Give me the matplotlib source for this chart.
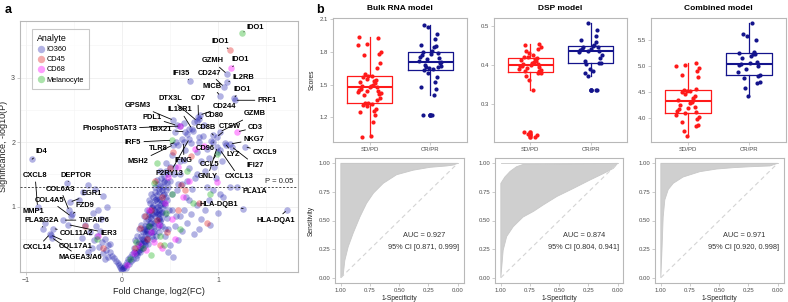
import numpy as np
import matplotlib
matplotlib.use('Agg')
import matplotlib.pyplot as plt
from matplotlib.lines import Line2D

plt.rcParams['font.family'] = ['Liberation Sans', 'DejaVu Sans']

W, H = 788, 302

# ---------------- Panel a: volcano data ----------------
io360_fc = [0.00, 0.01, -0.01, 0.02, -0.02, 0.03, -0.03, 0.04, 0.05, -0.04, 0.06, 0.07, -0.06, 0.08, 0.09, 0.10, -0.08, 0.11, 0.12, -0.10,
            -0.12, -0.14, -0.15, -0.17, -0.18, -0.20, -0.21, -0.23, -0.24, -0.26, -0.27, -0.29, -0.31, -0.33, -0.12, -0.18, -0.22, -0.35, -0.38, -0.42, -0.16, -0.20, -0.28, -0.35, -0.30, -0.25, -0.45, -0.40,
            0.13, 0.14, 0.15, 0.16, 0.17, 0.18, 0.19, 0.20, 0.21, 0.22, 0.23, 0.24, 0.25, 0.26, 0.27, 0.28, 0.29, 0.30, 0.31, 0.32, 0.33, 0.34, 0.35, 0.36, 0.37, 0.38, 0.39, 0.40, 0.41, 0.42, 0.43, 0.44, 0.45, 0.46, 0.47, 0.48, 0.49, 0.50,
            0.16, 0.18, 0.20, 0.22, 0.24, 0.26, 0.28, 0.30, 0.32, 0.34, 0.35, 0.36, 0.38, 0.40, 0.42, 0.44, 0.46, 0.48, 0.50, 0.52, 0.54, 0.56, 0.58, 0.60,
            0.25, 0.27, 0.29, 0.31, 0.33, 0.35, 0.37, 0.39, 0.41, 0.43, 0.30, 0.34, 0.38, 0.42, 0.36, 0.40, 0.32, 0.28, 0.44, 0.46,
            0.52, 0.55, 0.58, 0.60, 0.62, 0.64, 0.66, 0.68, 0.70, 0.72, 0.74, 0.76, 0.78, 0.80, 0.82, 0.84, 0.86, 0.88, 0.90, 0.93,
            0.96, 1.00, 1.04, 1.08, 0.55, 0.60, 0.65, 0.70, 0.75, 0.80, 0.85, 0.62, 0.68, 0.73, 0.78, 0.57, 0.67, 0.88, 0.98, 1.02,
            0.45, 0.50, 0.53, 0.55, 0.58, 0.62, 0.65, 0.68, 0.72, 0.75, 0.78, 0.82, 0.86, 0.90, 0.95, 1.00, 1.05, 1.12, 0.48, 0.60, 0.70, 0.80, 0.92,
            0.18, 0.20, 0.22, 0.24, 0.26, 0.28, 0.30, 0.32, 0.34, 0.36, 0.38, 0.40, 0.42, 0.44, 0.46, 0.48,
            0.21, 0.23, 0.25, 0.27, 0.29, 0.31, 0.33, 0.35, 0.37, 0.39, 0.41, 0.43, 0.45, 0.47,
            0.19, 0.26, 0.33, 0.40, 0.47, 0.24, 0.31, 0.38, 0.45, 0.52,
            0.15, 0.17, 0.20, 0.23, 0.27, 0.30, 0.34, 0.37, 0.41, 0.44]
io360_sig = [0.01, 0.04, 0.03, 0.07, 0.06, 0.10, 0.09, 0.05, 0.14, 0.12, 0.18, 0.11, 0.16, 0.22, 0.15, 0.26, 0.20, 0.19, 0.30, 0.24,
             0.30, 0.22, 0.40, 0.33, 0.50, 0.28, 0.45, 0.62, 0.38, 0.55, 0.70, 0.48, 0.35, 0.60, 0.42, 0.18, 0.80, 0.30, 0.72, 0.52, 1.00, 1.17, 1.27, 1.33, 0.90, 0.95, 1.10, 1.22,
             0.35, 0.48, 0.28, 0.55, 0.42, 0.66, 0.38, 0.72, 0.50, 0.60, 0.85, 0.45, 0.78, 0.95, 0.58, 0.88, 1.05, 0.68, 0.98, 1.15, 0.75, 1.22, 0.92, 1.08, 1.35, 0.82, 1.28, 1.02, 1.45, 0.70, 1.18, 1.38, 0.88, 1.55, 1.10, 1.30, 0.95, 1.62,
             0.25, 0.32, 0.44, 0.36, 0.62, 0.52, 0.70, 0.82, 0.60, 0.90, 0.55, 1.00, 1.12, 0.78, 0.92, 1.05, 1.25, 0.65, 1.40, 1.20, 1.50, 0.85, 1.35, 1.70,
             0.65, 0.80, 0.74, 0.88, 0.95, 0.78, 1.00, 0.90, 1.10, 0.98, 1.20, 1.30, 0.60, 1.25, 1.42, 1.55, 0.50, 1.10, 1.48, 1.68,
             1.80, 1.62, 1.95, 1.50, 2.05, 1.72, 1.88, 2.12, 1.60, 1.98, 2.18, 1.45, 1.85, 2.00, 1.70, 2.10, 1.55, 1.90, 1.75, 2.02,
             1.62, 1.85, 1.70, 1.95, 2.15, 2.25, 2.30, 2.20, 2.32, 2.08, 2.26, 1.35, 1.40, 1.28, 1.50, 1.25, 1.15, 1.30, 1.45, 1.20,
             0.55, 0.40, 0.22, 0.70, 0.48, 0.62, 0.95, 0.75, 0.88, 0.58, 1.02, 0.80, 0.95, 1.10, 1.25, 0.90, 1.15, 1.30, 0.30, 0.85, 1.10, 0.66, 0.72,
             0.45, 0.55, 0.50, 0.70, 0.62, 0.92, 0.75, 1.02, 0.85, 1.18, 0.95, 1.32, 1.05, 1.40, 1.15, 1.50,
             0.40, 0.66, 0.58, 0.70, 0.84, 1.00, 0.70, 1.12, 0.88, 1.22, 0.80, 1.30, 1.02, 1.38,
             0.30, 0.48, 0.62, 0.72, 0.82, 0.40, 0.55, 0.80, 0.66, 0.95,
             0.20, 0.30, 0.34, 0.46, 0.42, 0.60, 1.10, 0.68, 0.90, 1.20]
cd45_fc = [-0.38, -0.20, 0.14, 0.19, 0.26, 0.30, 0.36, 0.42, 0.47, 0.53, 0.61, 0.66, 0.72, 0.80, 0.88, 0.58, 0.40, 0.34, 0.24, 0.50]
cd45_sig = [0.70, 0.36, 0.36, 0.67, 0.50, 0.95, 0.79, 1.15, 0.60, 1.85, 1.34, 1.25, 1.78, 1.05, 0.74, 0.95, 0.40, 1.40, 0.85, 1.60]
cd68_fc = [-0.25, 0.05, 0.12, 0.18, 0.25, 0.30, 0.33, 0.38, 0.42, 0.45, 0.48, 0.52, 0.58, 0.63, 0.70, 0.76, 0.85, 0.99, 0.55, 0.28]
cd68_sig = [0.55, 0.10, 0.28, 0.40, 0.32, 0.60, 0.45, 0.72, 0.35, 1.05, 1.46, 0.80, 1.62, 1.15, 1.40, 1.90, 1.94, 1.38, 0.50, 0.95]
mel_fc = [-0.26, 0.08, 0.15, 0.22, 0.28, 0.33, 0.36, 0.40, 0.46, 0.52, 0.60, 0.68, 0.74, 0.92, 0.44, 0.30]
mel_sig = [0.49, 0.18, 0.45, 0.35, 0.70, 1.36, 1.67, 0.55, 0.90, 1.20, 0.65, 1.55, 1.05, 1.19, 0.40, 0.25]

gene_names = ['IDO1', 'IDO1', 'IDO1', 'GZMH', 'IL2RB', 'IFI35', 'CD247', 'MICB', 'IDO1', 'PRF1',
              'CD7', 'CD244', 'CD80', 'DTX3L', 'GPSM3', 'IL18R1', 'PDL1', 'PhosphoSTAT3', 'TBX21', 'CD8B',
              'CTSW', 'GZMB', 'CD3', 'NKG7', 'IRF5', 'TLR8', 'CD96', 'MSH2', 'IFNG', 'P2RY13',
              'CCL5', 'GNLY', 'LYZ', 'IFI27', 'CXCL13', 'CXCL9', 'PLA1A', 'HLA-DQB1', 'HLA-DQA1', 'ID4',
              'CXCL8', 'DEPTOR', 'COL6A3', 'EGR1', 'COL4A5', 'FZD9', 'MMP1', 'PLA2G2A', 'TNFAIP6', 'COL11A2',
              'IER3', 'CXCL14', 'COL17A1', 'MAGEA3/A6']
gene_fc = [1.247, 1.118, 1.135, 1.09, 1.09, 0.708, 1.06, 1.02, 1.16, 1.177,
           0.795, 0.81, 0.80, 0.78, 0.535, 0.726, 0.57, 0.604, 0.656, 0.95,
           0.986, 1.02, 1.20, 1.125, 0.517, 0.56, 0.95, 0.535, 0.64, 0.70,
           0.986, 0.99, 1.07, 1.14, 1.02, 1.28, 1.195, 1.26, 1.715, -0.934,
           -0.878, -0.576, -0.55, -0.54, -0.53, -0.524, -0.80, -0.82, -0.61, -0.715,
           -0.56, -0.75, -0.74, -0.73]
gene_sig = [3.70, 3.43, 3.15, 3.06, 2.93, 2.946, 2.86, 2.72, 2.68, 2.65,
            2.39, 2.42, 2.36, 2.33, 2.34, 2.21, 2.26, 2.25, 2.16, 2.11,
            2.08, 2.16, 2.16, 1.97, 2.03, 2.00, 2.00, 1.96, 2.00, 2.05,
            1.82, 1.92, 1.98, 1.93, 1.88, 1.93, 1.31, 0.97, 0.946, 1.736,
            1.00, 1.37, 0.94, 1.07, 0.85, 0.88, 0.74, 0.65, 0.79, 0.66,
            0.72, 0.57, 0.56, 0.52]
gene_analyte = ['Melanocyte', 'CD45', 'CD68', 'IO360', 'IO360', 'IO360', 'IO360', 'IO360', 'IO360', 'IO360',
                'IO360', 'IO360', 'IO360', 'IO360', 'IO360', 'IO360', 'IO360', 'CD68', 'IO360', 'IO360',
                'IO360', 'IO360', 'CD68', 'IO360', 'Melanocyte', 'IO360', 'IO360', 'IO360', 'IO360', 'IO360',
                'Melanocyte', 'IO360', 'IO360', 'IO360', 'IO360', 'IO360', 'IO360', 'IO360', 'IO360', 'IO360',
                'IO360', 'IO360', 'IO360', 'IO360', 'IO360', 'IO360', 'IO360', 'IO360', 'IO360', 'IO360',
                'IO360', 'IO360', 'IO360', 'IO360']
# label placement (layout)
label_x = [1.39, 1.02, 1.23, 0.94, 1.26, 0.62, 0.91, 0.935, 1.247, 1.51,
           0.79, 1.07, 0.956, 0.50, 0.17, 0.604, 0.31, -0.13, 0.405, 0.87,
           1.125, 1.38, 1.39, 1.375, 0.115, 0.375, 0.865, 0.167, 0.644, 0.497,
           0.913, 0.89, 1.16, 1.39, 1.215, 1.49, 1.38, 1.01, 1.60, -0.836,
           -0.903, -0.476, -0.64, -0.3125, -0.755, -0.383, -0.924, -0.836, -0.29, -0.47,
           -0.139, -0.877, -0.484, -0.432]
label_y = [3.78, 3.56, 3.28, 3.26, 3.01, 3.07, 3.07, 2.87, 2.82, 2.65,
           2.67, 2.56, 2.41, 2.68, 2.57, 2.50, 2.38, 2.21, 2.19, 2.23,
           2.25, 2.44, 2.23, 2.04, 2.00, 1.90, 1.90, 1.695, 1.71, 1.515,
           1.65, 1.46, 1.81, 1.64, 1.46, 1.84, 1.23, 1.03, 0.79, 1.85,
           1.48, 1.49, 1.27, 1.20, 1.10, 1.01, 0.92, 0.79, 0.79, 0.585,
           0.585, 0.367, 0.388, 0.212]

analytes = ['IO360', 'CD45', 'CD68', 'Melanocyte']
analyte_colors = {'IO360': ('#1010a8', 0.32), 'CD45': ('#e00000', 0.33),
                  'CD68': ('#ff00ff', 0.38), 'Melanocyte': ('#00aa00', 0.33)}
p_cut = 0.05

# ---------------- Panel b: model scores ----------------
bulk_sdpd = [1.02, 1.03, 1.16, 1.22, 1.245, 1.26, 1.28, 1.30, 1.31, 1.32, 1.33, 1.335, 1.36, 1.38, 1.40, 1.41, 1.42, 1.43, 1.44, 1.445,
             1.45, 1.46, 1.475, 1.48, 1.485, 1.49, 1.50, 1.51, 1.52, 1.53, 1.54, 1.55, 1.57, 1.575, 1.58, 1.60, 1.65, 1.70, 1.77, 1.78,
             1.80, 1.86, 1.87, 1.93, 1.932]
bulk_crpr = [1.22, 1.22, 1.40, 1.46, 1.48, 1.52, 1.57, 1.61, 1.63, 1.64, 1.65, 1.66, 1.665, 1.67, 1.68, 1.70, 1.71, 1.72, 1.73, 1.745,
             1.75, 1.77, 1.78, 1.79, 1.80, 1.81, 1.84, 1.855, 1.86, 1.92, 1.96, 2.03, 2.05]
dsp_sdpd = [0.215, 0.218, 0.222, 0.228, 0.335, 0.36, 0.372, 0.378, 0.38, 0.383, 0.385, 0.388, 0.39, 0.393, 0.395, 0.397, 0.398, 0.40,
            0.401, 0.403, 0.405, 0.407, 0.41, 0.412, 0.415, 0.418, 0.42, 0.421, 0.425, 0.43, 0.435, 0.44, 0.445, 0.451, 0.455]
dsp_crpr = [0.335, 0.336, 0.372, 0.38, 0.385, 0.39, 0.403, 0.405, 0.406, 0.41, 0.418, 0.425, 0.434, 0.436, 0.437, 0.438, 0.44, 0.442,
            0.445, 0.447, 0.449, 0.452, 0.458, 0.465, 0.475, 0.49, 0.508]
comb_sdpd = [3.66, 3.77, 3.85, 3.88, 3.94, 3.99, 4.03, 4.07, 4.10, 4.13, 4.15, 4.18, 4.20, 4.22, 4.25, 4.29, 4.32, 4.35, 4.36, 4.39,
             4.42, 4.46, 4.50, 4.52, 4.53, 4.55, 4.56, 4.78, 4.83, 4.90, 4.96, 5.00, 5.02, 5.06]
comb_crpr = [4.42, 4.58, 4.67, 4.70, 4.77, 4.80, 4.83, 4.89, 4.94, 4.99, 5.02, 5.03, 5.05, 5.08, 5.15, 5.19, 5.22, 5.23, 5.25, 5.27,
             5.49, 5.56, 5.60, 5.82]
groups = ['SD/PD', 'CR/PR']
model_titles = ['Bulk RNA model', 'DSP model', 'Combined model']

# ROC bootstrap envelopes (specificity, sensitivity)
bulk_lo_spec = [1.0, 0.98, 0.966, 0.937, 0.894, 0.837, 0.78, 0.72, 0.637, 0.523, 0.38, 0.237, 0.094, 0.037, 0.0]
bulk_lo_sens = [0.0, 0.02, 0.15, 0.27, 0.39, 0.53, 0.65, 0.74, 0.825, 0.90, 0.94, 0.965, 0.977, 0.985, 1.0]
bulk_hi_spec = [1.0, 1.0, 0.0]
bulk_hi_sens = [0.0, 1.0, 1.0]
dsp_lo_spec = [1.0, 0.98, 0.95, 0.894, 0.81, 0.72, 0.637, 0.52, 0.38, 0.237, 0.123, 0.037, 0.0]
dsp_lo_sens = [0.0, 0.24, 0.36, 0.446, 0.53, 0.58, 0.636, 0.71, 0.78, 0.854, 0.91, 0.956, 1.0]
dsp_hi_spec = [1.0, 1.0, 0.966, 0.92, 0.866, 0.81, 0.0]
dsp_hi_sens = [0.0, 0.825, 0.88, 0.93, 0.97, 0.99, 1.0]
comb_lo_spec = [1.0, 0.99, 0.98, 0.966, 0.937, 0.894, 0.81, 0.666, 0.523, 0.38, 0.237, 0.066, 0.0]
comb_lo_sens = [0.0, 0.25, 0.53, 0.68, 0.77, 0.825, 0.88, 0.927, 0.95, 0.962, 0.97, 0.977, 1.0]
comb_hi_spec = [1.0, 1.0, 0.0]
comb_hi_sens = [0.0, 1.0, 1.0]
auc_values = [0.927, 0.874, 0.971]
auc_ci = [(0.871, 0.999), (0.804, 0.941), (0.920, 0.998)]

# ---------------- layout helpers ----------------
JITTER = [-0.12, 0.08, -0.02, 0.15, -0.17, 0.03, 0.11, -0.07, 0.18, -0.14, 0.06, -0.04,
          0.13, -0.19, 0.01, 0.09, -0.10, 0.17, -0.05, 0.12, -0.16, 0.04, -0.09, 0.14]
BORDER = '#b8b8b8'
TICKC = '#4d4d4d'
RED = '#ff1a1a'
NAVY = '#14148c'


def rect(x0, y0, x1, y1):
    return [x0 / W, 1 - y1 / H, (x1 - x0) / W, (y1 - y0) / H]


def style_frame(ax, lab=4.5):
    for s in ax.spines.values():
        s.set_color(BORDER)
        s.set_linewidth(0.8)
    ax.tick_params(length=2, width=0.5, color=BORDER, labelsize=lab, labelcolor=TICKC, pad=1.5)


fig = plt.figure(figsize=(W / 100, H / 100), dpi=100)

# ---------------- Panel a ----------------
ax = fig.add_axes(rect(20, 21, 298, 272))
style_frame(ax, 5)
ax.set_xlim(-1.06, 1.83)
ax.set_ylim(-0.015, 3.88)
ax.set_xticks([-1, 0, 1])
ax.set_yticks([1, 2, 3])
ax.set_xticks([-0.5, 0.5, 1.5], minor=True)
ax.set_yticks([0.5, 1.5, 2.5, 3.5], minor=True)
ax.tick_params(which='minor', length=0)
ax.grid(True, which='major', color='#ebebeb', lw=0.5)
ax.grid(True, which='minor', color='#f4f4f4', lw=0.4)
ax.set_axisbelow(True)

bg = {'IO360': (io360_fc, io360_sig), 'CD45': (cd45_fc, cd45_sig),
      'CD68': (cd68_fc, cd68_sig), 'Melanocyte': (mel_fc, mel_sig)}
for an in analytes:
    gx = [f for f, a in zip(gene_fc, gene_analyte) if a == an]
    gy = [s for s, a in zip(gene_sig, gene_analyte) if a == an]
    xs = list(bg[an][0]) + gx
    ys = list(bg[an][1]) + gy
    c, al = analyte_colors[an]
    ax.scatter(xs, ys, s=22, color=c, alpha=al, lw=0, zorder=2)

yline = -np.log10(p_cut)
ax.axhline(yline, color='#333333', lw=0.6, ls=(0, (2.5, 2)), zorder=3)
ax.text(1.78, yline + 0.03, 'P = 0.05', fontsize=5.5, color='#222222', ha='right', va='bottom')

for name, fx, sy, lx, ly in zip(gene_names, gene_fc, gene_sig, label_x, label_y):
    ax.annotate(name, xy=(fx, sy), xytext=(lx, ly), ha='center', va='center',
                fontsize=5.4, fontweight='bold', color='black', zorder=5,
                arrowprops=dict(arrowstyle='-', color='black', lw=0.6, shrinkA=0, shrinkB=1.5))

ax.set_xlabel('Fold Change, log2(FC)', fontsize=6.5, color='#222222', labelpad=2)
ax.set_ylabel('Significance, -log10(P)', fontsize=6.5, color='#222222', labelpad=2)

handles = [Line2D([], [], marker='o', ls='none', ms=5.3, mew=0,
                  mfc=analyte_colors[a][0], alpha=analyte_colors[a][1]) for a in analytes]
leg = ax.legend(handles, analytes, title='Analyte', loc='upper left', bbox_to_anchor=(0.043, 0.968),
                fontsize=5.3, title_fontsize=6.4, frameon=True, fancybox=False, edgecolor='#bbbbbb',
                handletextpad=0.3, labelspacing=0.4, borderpad=0.7, handlelength=1.0,
                alignment='left', borderaxespad=0)
leg.get_frame().set_linewidth(0.8)
leg.set_zorder(6)

fig.text(8 / W, 1 - 10 / H, 'a', fontsize=9, fontweight='bold', ha='center', va='center')
fig.text(320 / W, 1 - 10 / H, 'b', fontsize=9, fontweight='bold', ha='center', va='center')

# ---------------- Panel b: boxplots ----------------
box_rects = [(333, 18, 467, 142), (494, 18, 627, 142), (651, 18, 786, 142)]
box_data = [(bulk_sdpd, bulk_crpr), (dsp_sdpd, dsp_crpr), (comb_sdpd, comb_crpr)]
box_ylims = [(0.973, 2.11), (0.201, 0.521), (3.552, 5.91)]
box_ticks = [[1.2, 1.5, 1.8, 2.1], [0.3, 0.4, 0.5], [4.0, 4.5, 5.0, 5.5]]

for i, (r, (sd, cr), yl, tk, ttl) in enumerate(zip(box_rects, box_data, box_ylims, box_ticks, model_titles)):
    bx = fig.add_axes(rect(*r))
    style_frame(bx, 4.3)
    for pos, vals, col in [(1, sd, RED), (2, cr, NAVY)]:
        bx.boxplot([vals], positions=[pos], widths=0.75, whis=1.5, showcaps=False,
                   boxprops=dict(color=col, lw=0.9), medianprops=dict(color=col, lw=1.5),
                   whiskerprops=dict(color=col, lw=0.9),
                   flierprops=dict(marker='o', mfc=col, mec=col, ms=3.3, mew=0))
        jit = np.array([JITTER[(k * 5 + i) % len(JITTER)] for k in range(len(vals))])
        bx.scatter(pos + jit, vals, s=9, color=col, lw=0, zorder=3)
    bx.set_xlim(0.4, 2.6)
    bx.set_ylim(*yl)
    bx.set_yticks(tk, ['{:.1f}'.format(t) for t in tk])
    bx.set_xticks([1, 2], groups)
    if i == 0:
        bx.set_ylabel('Scores', fontsize=4.8, color='#222222', labelpad=3)
    cx = (r[0] + r[2]) / 2
    fig.text(cx / W, 1 - 9 / H, ttl, fontsize=6, fontweight='bold', ha='center', va='center')

# ---------------- Panel b: ROC ----------------
roc_rects = [(335, 157.6, 463.5, 283.4), (495, 157.6, 623.5, 283.4), (655, 157.6, 783.5, 283.4)]
roc_env = [((bulk_hi_spec, bulk_hi_sens), (bulk_lo_spec, bulk_lo_sens)),
           ((dsp_hi_spec, dsp_hi_sens), (dsp_lo_spec, dsp_lo_sens)),
           ((comb_hi_spec, comb_hi_sens), (comb_lo_spec, comb_lo_sens))]
rticks = [1.0, 0.75, 0.5, 0.25, 0.0]
for i, (r, ((hs, hv), (ls_, lv)), auc, ci) in enumerate(zip(roc_rects, roc_env, auc_values, auc_ci)):
    rx = fig.add_axes(rect(*r))
    style_frame(rx, 4.3)
    px = list(hs) + list(ls_)[::-1]
    py = list(hv) + list(lv)[::-1]
    rx.fill(px, py, color='#cfcfcf', lw=0.6, ec='#c8c8c8', zorder=1)
    rx.plot([1, 0], [0, 1], color='#d4d4d4', lw=0.8, ls=(0, (4, 3)), zorder=2)
    rx.plot([1, 0], [1, 1], color='#c8c8c8', lw=0.6, zorder=2)
    rx.set_xlim(1.05, -0.05)
    rx.set_ylim(-0.05, 1.05)
    rx.set_xticks(rticks, ['{:.2f}'.format(t) for t in rticks])
    rx.set_yticks(rticks[::-1], ['{:.2f}'.format(t) for t in rticks[::-1]])
    rx.text(0.285, 0.365, 'AUC = {:.3f}'.format(auc), fontsize=5.3, color='#333333', ha='center', va='center')
    rx.text(0.29, 0.265, '95% CI [{:.3f}, {:.3f}]'.format(*ci), fontsize=5.3, color='#333333', ha='center', va='center')
    rx.set_xlabel('1-Specificity', fontsize=4.8, color='#222222', labelpad=1.5)
    if i == 0:
        rx.set_ylabel('Sensitivity', fontsize=4.8, color='#222222', labelpad=3)

fig.savefig('out.png', dpi=100)
